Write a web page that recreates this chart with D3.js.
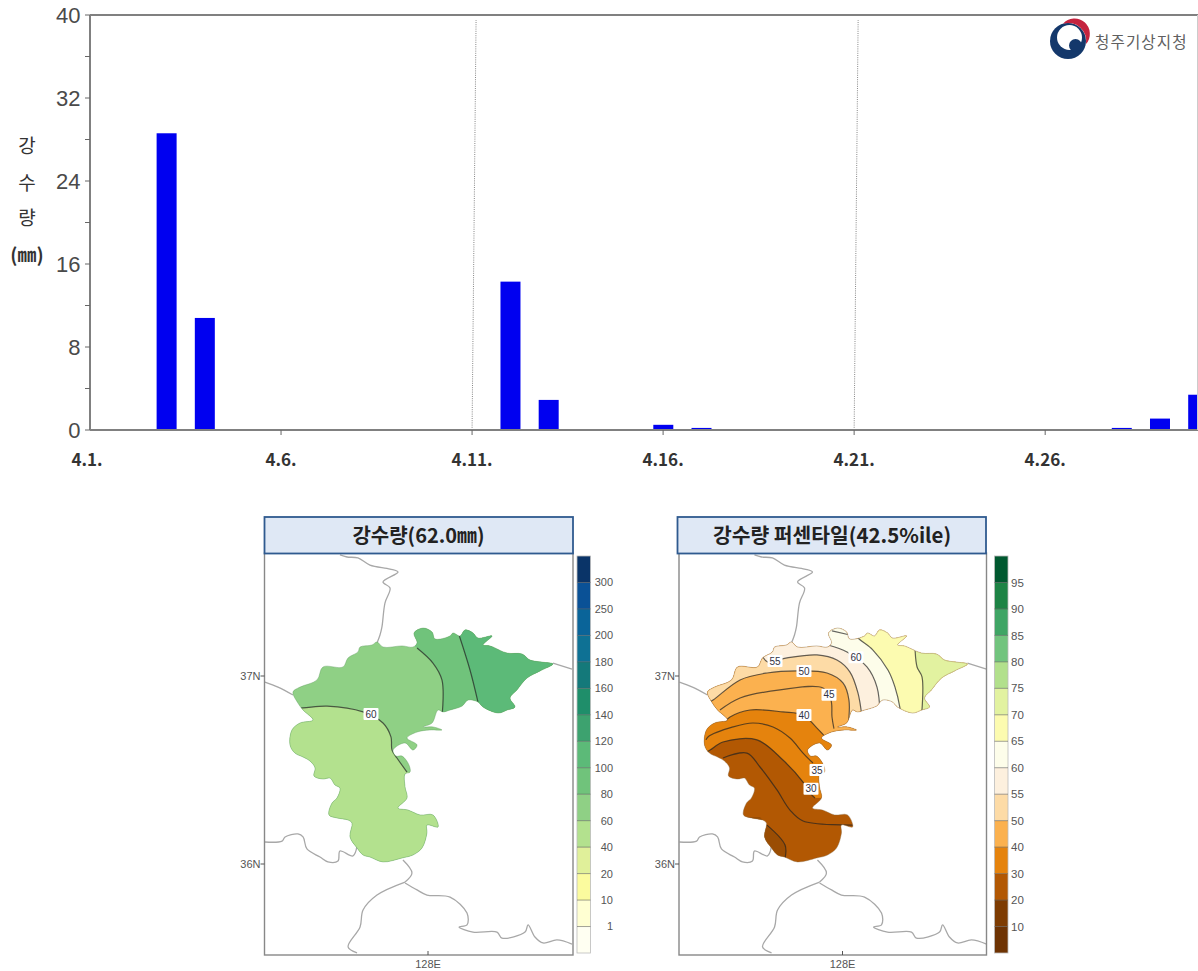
<!DOCTYPE html>
<html><head><meta charset="utf-8">
<script src="https://cdnjs.cloudflare.com/ajax/libs/d3/7.8.5/d3.min.js"></script>
<style>html,body{margin:0;padding:0;background:#fff}svg{display:block}
.ar{font-family:"Liberation Sans",Arial,sans-serif}
.kr{font-family:"Noto Sans CJK KR",sans-serif}</style></head><body>
<svg id="c" width="1198" height="971"></svg>
<script>
// ---- Daily rainfall (April) ----
const rainDays   = [3, 4, 12, 13, 16, 17, 28, 29, 30];
const rainValues = [28.6, 10.8, 14.3, 2.9, 0.5, 0.2, 0.2, 1.1, 3.4];
const yTickValues = [0, 8, 16, 24, 32, 40];
const yMinorValues = [4, 12, 20, 28, 36];
const xTickDays  = [1, 6, 11, 16, 21, 26];
const xTickLabels = ["4.1.", "4.6.", "4.11.", "4.16.", "4.21.", "4.26."];
const pentadDays = [11, 21];

// ---- Legends ----
const rainLevels = ["1","10","20","40","60","80","100","120","140","160","180","200","250","300"];
const rainColors = ["#fffff2","#ffffd2","#fbfb9e","#e0f09a","#b3e18e","#8fd085","#70c37b","#5cba78","#3da26f","#1f8e6a","#14797a","#0e7194","#0a6499","#0a5196","#0a3468"];
const pctLevels  = ["10","20","30","40","50","55","60","65","70","75","80","85","90","95"];
const pctColors  = ["#6e3303","#7e3c02","#b25803","#e5830d","#fbb14f","#fddba6","#fdf0de","#fdfdea","#fcfbb0","#e2f2a0","#b2e08c","#72c47e","#3fa565","#1d8345","#00582f"];

// ---- Station region outline [lon, lat] ----
const regionOutline = [[127.100,36.915],[127.147,36.941],[127.260,36.979],[127.300,37.048],[127.433,37.048],[127.467,37.096],[127.533,37.128],[127.547,37.154],[127.627,37.165],[127.660,37.181],[127.700,37.154],[127.827,37.160],[127.900,37.154],[127.927,37.176],[127.907,37.229],[127.967,37.255],[128.027,37.234],[128.047,37.197],[128.147,37.213],[128.167,37.229],[128.213,37.213],[128.247,37.245],[128.300,37.229],[128.333,37.202],[128.427,37.213],[128.367,37.165],[128.413,37.160],[128.527,37.122],[128.627,37.117],[128.680,37.085],[128.760,37.074],[128.833,37.064],[128.747,37.027],[128.660,36.989],[128.593,36.926],[128.547,36.883],[128.580,36.835],[128.527,36.819],[128.467,36.803],[128.367,36.835],[128.333,36.862],[128.267,36.872],[128.227,36.840],[128.147,36.819],[128.100,36.809],[128.067,36.819],[128.027,36.750],[127.967,36.729],[128.033,36.729],[128.093,36.713],[128.013,36.713],[127.927,36.702],[127.860,36.670],[127.927,36.633],[127.900,36.606],[127.847,36.644],[127.767,36.606],[127.787,36.574],[127.827,36.574],[127.873,36.527],[127.880,36.489],[127.847,36.479],[127.847,36.410],[127.860,36.351],[127.800,36.298],[127.867,36.287],[127.947,36.261],[128.033,36.261],[128.067,36.197],[127.993,36.207],[127.993,36.165],[127.960,36.085],[127.900,36.048],[127.827,36.032],[127.700,36.011],[127.613,36.037],[127.567,36.048],[127.527,36.085],[127.480,36.144],[127.493,36.218],[127.467,36.234],[127.393,36.245],[127.340,36.261],[127.360,36.324],[127.393,36.351],[127.413,36.404],[127.380,36.420],[127.347,36.457],[127.300,36.452],[127.240,36.468],[127.247,36.511],[127.213,36.548],[127.167,36.569],[127.113,36.590],[127.080,36.633],[127.093,36.713],[127.147,36.750],[127.233,36.766],[127.167,36.819],[127.133,36.856]];

// ---- Neighbouring boundaries [lon, lat] ----
const boundaries = [
 [[127.413,37.644],[127.460,37.633],[127.533,37.628],[127.613,37.590],[127.747,37.569],[127.800,37.553],[127.700,37.500],[127.747,37.468],[127.713,37.388],[127.693,37.261],[127.680,37.218],[127.660,37.176]],
 [[126.913,36.968],[127.000,36.941],[127.100,36.899]],
 [[128.833,37.069],[128.960,37.037]],
 [[126.913,36.117],[127.027,36.122],[127.047,36.144],[127.133,36.160],[127.167,36.144],[127.193,36.080],[127.280,36.037],[127.333,36.011],[127.400,36.016],[127.413,36.069],[127.500,36.043],[127.527,36.096]],
 [[127.833,36.021],[127.893,35.952],[127.847,35.904]],
 [[127.847,35.904],[127.660,35.835],[127.567,35.755],[127.547,35.665],[127.467,35.559],[127.527,35.527]],
 [[127.847,35.899],[127.927,35.862],[127.993,35.835],[128.147,35.824],[128.260,35.739],[128.260,35.676],[128.207,35.665],[128.300,35.638],[128.460,35.638],[128.493,35.606],[128.647,35.638],[128.667,35.676],[128.713,35.612],[128.767,35.580],[128.860,35.596],[128.960,35.574]]
];

// ---- Rainfall contours: value, line [lon, lat], and closure beyond the line ----
const rainContours = [
 {v:60, color:"#b3e18e", line:[[127.10,36.83],[127.167,36.830],[127.327,36.840],[127.567,36.809],[127.700,36.750],[127.753,36.676],[127.760,36.606],[127.793,36.564],[127.860,36.489]], close:[[128.2,36.45],[128.2,35.9],[127.0,35.9],[127.0,36.83]]},
 {v:80, color:"#70c37b", line:[[127.927,37.149],[128.033,37.069],[128.093,36.979],[128.093,36.780]], close:[[129.1,36.7],[129.1,37.4],[127.88,37.4],[127.88,37.18]]},
 {v:100, color:"#5cba78", line:[[128.207,37.218],[128.280,37.032],[128.333,36.862]], close:[[128.38,36.7],[129.1,36.7],[129.1,37.4],[128.18,37.4]]}
];
const rainLabels = [{t:"60", lon:127.62, lat:36.798}];

// ---- Percentile contours ----
const pctBaseColor = "#b25803";
const pctC20 = [[127.497,36.207],[127.617,36.101],[127.617,36.030]];
const pctC20Close = [[127.6,35.9],[127.0,35.9],[127.0,36.25],[127.45,36.25]];
const pctFills = [
 {color:"#e5830d", line:[[127.08,36.59],[127.117,36.606],[127.203,36.649],[127.430,36.660],[127.603,36.553],[127.737,36.436],[127.783,36.378],[127.817,36.351]], close:[[129.2,36.38],[129.2,37.5],[126.9,37.5],[126.9,36.59]]},
 {color:"#fbb14f", line:[[127.22,36.76],[127.250,36.782],[127.383,36.819],[127.603,36.809],[127.737,36.793],[127.830,36.723],[127.917,36.649]], close:[[129.2,36.6],[129.2,37.5],[126.9,37.5],[126.9,36.76]]},
 {color:"#fddba6", line:[[127.09,36.85],[127.137,36.872],[127.317,36.979],[127.497,37.016],[127.697,37.027],[127.897,37.016],[128.003,36.963],[128.043,36.872],[128.037,36.730]], close:[[129.2,36.68],[129.2,37.5],[126.9,37.5],[126.9,36.85]]},
 {color:"#fdf0de", line:[[127.47,37.10],[127.503,37.074],[127.630,37.096],[127.830,37.112],[127.963,37.085],[128.050,37.021],[128.103,36.910],[128.130,36.780]], close:[[129.2,36.7],[129.2,37.5],[127.47,37.5]]},
 {color:"#fdfdea", line:[[127.903,37.165],[128.030,37.128],[128.163,37.048],[128.230,36.941],[128.250,36.800]], close:[[129.2,36.7],[129.2,37.5],[127.88,37.5]]},
 {color:"#fcfbb0", line:[[128.05,37.25],[128.103,37.202],[128.203,37.138],[128.303,37.032],[128.350,36.941],[128.383,36.830],[128.39,36.77]], close:[[129.2,36.7],[129.2,37.5],[128.05,37.5]]},
 {color:"#e2f2a0", line:[[128.48,37.25],[128.483,37.149],[128.497,37.048],[128.530,36.995],[128.523,36.75]], close:[[129.2,36.7],[129.2,37.5],[128.48,37.5]]}
];
const pctExtraLines = [
 [[127.183,36.819],[127.317,36.883],[127.583,36.926],[127.870,36.936],[127.923,36.872],[127.930,36.782],[127.943,36.720]],
 [[127.09,36.66],[127.103,36.676],[127.270,36.729],[127.403,36.750],[127.537,36.729],[127.650,36.670],[127.737,36.590],[127.803,36.537]],
 [[127.203,36.564],[127.363,36.590],[127.450,36.516],[127.563,36.394],[127.650,36.287],[127.737,36.229],[128.070,36.207]],
 [[127.93,37.24],[128.05,37.218]]
];
const pctLabels = [
 {t:"55",lon:127.55,lat:37.08},{t:"60",lon:128.09,lat:37.10},{t:"50",lon:127.743,lat:37.027},
 {t:"45",lon:127.91,lat:36.90},{t:"40",lon:127.743,lat:36.793},{t:"35",lon:127.83,lat:36.50},{t:"30",lon:127.79,lat:36.40}
];
const gridLat = [37, 36];
const gridLon = [128];

// ---------------- drawing ----------------
const svg = d3.select("#c");
const m = {left:90, right:1198, top:15, bottom:430};
const dayX = d3.scaleLinear().domain([1,30]).range([m.left, m.right]);
const valY = d3.scaleLinear().domain([0,40]).range([m.bottom, m.top]);
const axisC = "#808080";

// pentad separators (slightly slanted in the source)
svg.append("g").selectAll("line").data(pentadDays).join("line")
  .attr("x1", d=>dayX(d)).attr("y1", m.bottom)
  .attr("x2", d=>dayX(d)+4).attr("y2", m.top+5)
  .attr("stroke","#888").attr("stroke-width",1).attr("stroke-dasharray","1 1.2");

const barW = 20;
svg.append("g").selectAll("rect").data(rainDays).join("rect")
  .attr("x", d=>dayX(d)-barW/2+0.2).attr("width", barW)
  .attr("y", (d,i)=>valY(rainValues[i])).attr("height",(d,i)=>m.bottom-valY(rainValues[i]))
  .attr("fill","#0000f0");

// axes
svg.append("line").attr("x1",m.left).attr("x2",m.right).attr("y1",m.top).attr("y2",m.top).attr("stroke",axisC).attr("stroke-width",2);
svg.append("line").attr("x1",m.left).attr("x2",m.right).attr("y1",m.bottom).attr("y2",m.bottom).attr("stroke",axisC).attr("stroke-width",2);
svg.append("line").attr("x1",m.left).attr("x2",m.left).attr("y1",m.top).attr("y2",m.bottom).attr("stroke",axisC).attr("stroke-width",2);
svg.append("line").attr("x1",m.right-0.5).attr("x2",m.right-0.5).attr("y1",m.top).attr("y2",m.bottom).attr("stroke","#ccc").attr("stroke-width",1);
const tickG = svg.append("g").attr("stroke","#666").attr("stroke-width",1);
tickG.selectAll(".a").data(yTickValues.concat(yMinorValues)).join("line")
  .attr("x1",m.left-5).attr("x2",m.left).attr("y1",d=>valY(d)).attr("y2",d=>valY(d));
tickG.selectAll(".b").data(xTickDays.slice(1)).join("line")
  .attr("x1",d=>dayX(d)).attr("x2",d=>dayX(d)).attr("y1",m.bottom).attr("y2",m.bottom+5);
svg.append("g").selectAll("text").data(yTickValues).join("text").attr("class","ar")
  .attr("x",80.5).attr("y",d=>valY(d)).attr("dy","0.36em").attr("text-anchor","end")
  .attr("font-size",22).attr("fill","#4a4a4a").text(d=>d);
svg.append("g").selectAll("text").data(xTickDays).join("text").attr("class","kr")
  .attr("x",(d,i)=>dayX(d)-(i?0:3)).attr("y",460).attr("dy","0.36em").attr("text-anchor","middle")
  .attr("font-size",17).attr("font-weight",700).attr("fill","#333")
  .text((d,i)=>xTickLabels[i]);

// y title
[["강",146,19,400],["수",183,19,400],["량",218,19,400],["(㎜)",255,19,700]].forEach(t=>{
  svg.append("text").attr("class","kr").attr("x",27).attr("y",t[1]).attr("dy","0.36em")
   .attr("text-anchor","middle").attr("font-size",t[2]).attr("font-weight",t[3]).attr("fill","#333").text(t[0]);
});

// logo
const logo = svg.append("g").attr("transform","translate(1068,41)");
logo.append("circle").attr("r",18).attr("fill","#14386b");
logo.append("circle").attr("cx",1.5).attr("cy",-3.5).attr("r",12.5).attr("fill","#fff");
logo.append("circle").attr("cx",7.5).attr("cy",4.5).attr("r",6.5).attr("fill","#14386b");
logo.append("path").attr("d","M-5,-17.3 A18,18 0 0 1 18,3 A14.5,14.5 0 0 0 -5,-17.3 Z").attr("fill","#c4233f");
svg.append("text").attr("class","kr").attr("x",1095).attr("y",42).attr("dy","0.36em")
  .attr("font-size",15.6).attr("letter-spacing",1.1).attr("fill","#606060").text("청주기상지청");

// maps
const geoLat = d3.scaleLinear().domain([37,36]).range([676,864]);
const lonPx = 150;
let uid = 0;
function mapPanel(o){
  const g = svg.append("g");
  const lonX = d3.scaleLinear().domain([128,129]).range([o.x128, o.x128+lonPx]);
  const line = d3.line().x(d=>lonX(d[0])).y(d=>geoLat(d[1]));
  const smooth = d3.line().x(d=>lonX(d[0])).y(d=>geoLat(d[1])).curve(d3.curveCatmullRom.alpha(0.5));
  const region = d3.line().x(d=>lonX(d[0])).y(d=>geoLat(d[1])).curve(d3.curveCatmullRomClosed.alpha(0.5));
  const outlineD = region(regionOutline);
  const id = "clip"+(uid++), fid = "frame"+uid;
  g.append("clipPath").attr("id",id).append("path").attr("d",outlineD);
  g.append("clipPath").attr("id",fid).append("rect").attr("x",o.left).attr("y",553).attr("width",o.right-o.left).attr("height",402);
  // boundaries
  const bg = g.append("g").attr("clip-path",`url(#${fid})`);
  bg.selectAll("path").data(boundaries).join("path").attr("d",smooth)
    .attr("fill","none").attr("stroke","#a8a8a8").attr("stroke-width",1.3);
  // fill
  g.append("path").attr("d",outlineD).attr("fill",o.base);
  const cg = g.append("g").attr("clip-path",`url(#${id})`);
  o.fills.forEach(f=>{
    cg.append("path").attr("d",smooth(f.line)+line(f.close).replace(/^M/,"L")+"Z").attr("fill",f.color);
  });
  g.append("path").attr("d",outlineD).attr("fill","none").attr("stroke",o.edge).attr("stroke-width",1).attr("stroke-opacity",.4);
  o.lines.concat(o.fills.map(f=>f.line)).forEach(l=>{
    cg.append("path").attr("d",smooth(l)).attr("fill","none").attr("stroke","#222").attr("stroke-opacity",.7).attr("stroke-width",1.2);
  });
  // contour labels
  o.labels.forEach(l=>{
    const lg = g.append("g").attr("transform",`translate(${lonX(l.lon)},${geoLat(l.lat)})`);
    lg.append("rect").attr("x",-7.5).attr("y",-6).attr("width",15).attr("height",12).attr("fill","#fff").attr("rx",1);
    lg.append("text").attr("class","ar").attr("text-anchor","middle").attr("dy","0.36em")
      .attr("font-size",10).attr("fill","#334").text(l.t);
  });
  // frame
  g.append("rect").attr("x",o.left).attr("y",553).attr("width",o.right-o.left).attr("height",402)
    .attr("fill","none").attr("stroke","#888").attr("stroke-width",1.4);
  gridLat.forEach(v=>{
    g.append("line").attr("x1",o.left-4).attr("x2",o.left).attr("y1",geoLat(v)).attr("y2",geoLat(v)).attr("stroke","#555");
    g.append("text").attr("class","ar").attr("x",o.left-4).attr("y",geoLat(v)).attr("dy","0.36em")
      .attr("text-anchor","end").attr("font-size",11).attr("fill","#555").text(v+"N");
  });
  gridLon.forEach(v=>{
    g.append("line").attr("x1",lonX(v)).attr("x2",lonX(v)).attr("y1",955).attr("y2",951).attr("stroke","#555");
    g.append("text").attr("class","ar").attr("x",lonX(v)).attr("y",964).attr("dy","0.36em")
      .attr("text-anchor","middle").attr("font-size",11).attr("fill","#555").text(v+"E");
  });
  // title
  g.append("rect").attr("x",o.boxL).attr("y",517).attr("width",308.5).attr("height",36.5)
    .attr("fill","#dfe8f5").attr("stroke","#2f5a8f").attr("stroke-width",1.8);
  g.append("text").attr("class","kr").attr("x",o.titleX).attr("y",536).attr("dy","0.36em")
    .attr("text-anchor","middle").attr("font-size",o.titleSize).attr("font-weight",700).attr("fill","#222").text(o.title);
  // legend
  const ly = d3.scaleLinear().domain([0,o.colors.length]).range([953,556]);
  const lg = g.append("g");
  lg.selectAll("rect").data(o.colors).join("rect")
    .attr("x",o.legX).attr("width",13.5).attr("y",(d,i)=>ly(i+1)).attr("height",(d,i)=>ly(i)-ly(i+1)).attr("fill",d=>d);
  lg.append("rect").attr("x",o.legX).attr("width",13.5).attr("y",556).attr("height",397).attr("fill","none").attr("stroke","#bbb").attr("stroke-width",.8);
  lg.selectAll("line").data(o.levels).join("line")
    .attr("x1",o.legX).attr("x2",o.legX+13.5).attr("y1",(d,i)=>ly(i+1)).attr("y2",(d,i)=>ly(i+1))
    .attr("stroke","#555").attr("stroke-opacity",.55);
  lg.selectAll("text").data(o.levels).join("text").attr("class","ar")
    .attr("x",o.legTextX).attr("y",(d,i)=>ly(i+1)).attr("dy","0.36em").attr("text-anchor",o.legAnchor)
    .attr("font-size",o.legFont).attr("fill","#555").text(d=>d);
}
mapPanel({x128:428,left:264.5,right:573,boxL:264.5,titleX:418.5,base:"#8fd085",edge:"#5d9a5d",
  fills:rainContours,lines:[],labels:rainLabels,title:"강수량(62.0㎜)",titleSize:20,
  colors:rainColors,levels:rainLevels,legX:577,legTextX:613,legAnchor:"end",legFont:11});
mapPanel({x128:842.5,left:679,right:986.5,boxL:677.5,titleX:832,base:pctBaseColor,edge:"#8a6a40",
  fills:[{color:"#9a4d03",line:pctC20,close:pctC20Close}].concat(pctFills),lines:pctExtraLines,labels:pctLabels,
  title:"강수량 퍼센타일(42.5%ile)",titleSize:20.4,
  colors:pctColors,levels:pctLevels,legX:994.5,legTextX:1011,legAnchor:"start",legFont:11.5});
</script></body></html>
